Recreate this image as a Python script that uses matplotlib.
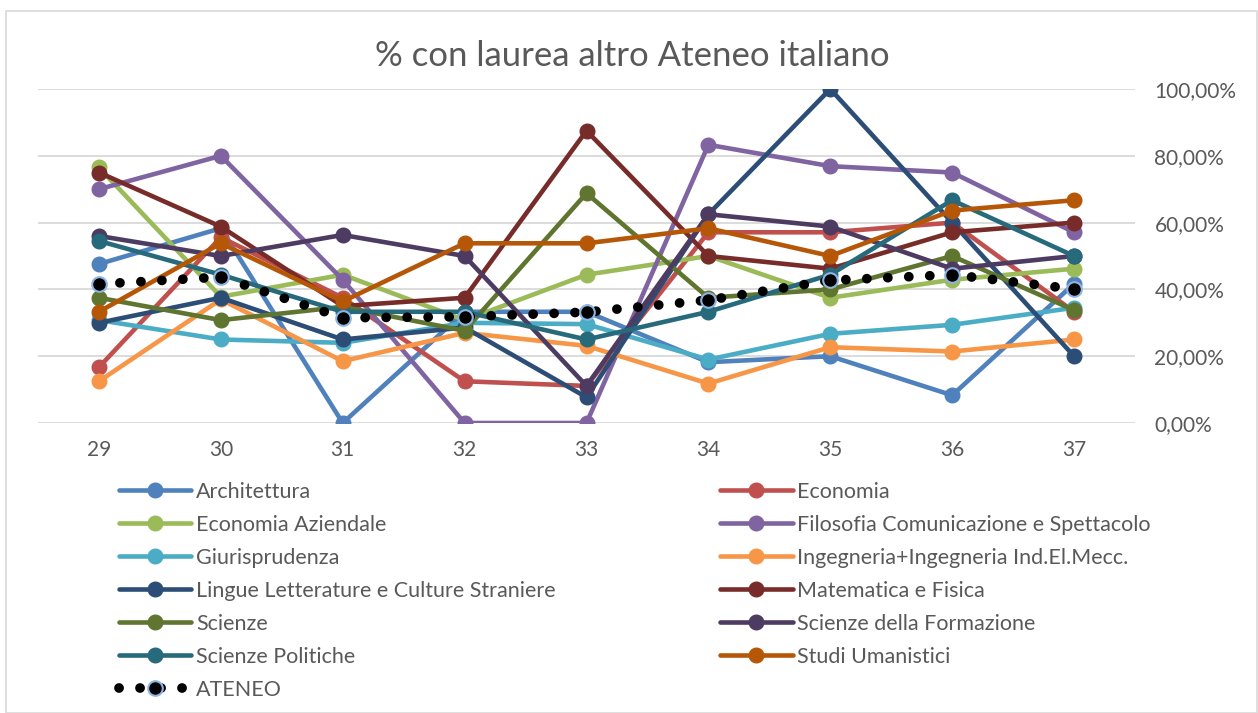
import matplotlib
matplotlib.use("Agg")
import matplotlib.pyplot as plt
from matplotlib.patches import Rectangle
from matplotlib.ticker import FuncFormatter

plt.rcParams['font.family'] = ['Lato', 'DejaVu Sans']

anni = [29, 30, 31, 32, 33, 34, 35, 36, 37]

nomi = ["Architettura", "Economia", "Economia Aziendale",
        "Filosofia Comunicazione e Spettacolo", "Giurisprudenza",
        "Ingegneria+Ingegneria Ind.El.Mecc.",
        "Lingue Letterature e Culture Straniere", "Matematica e Fisica",
        "Scienze", "Scienze della Formazione", "Scienze Politiche",
        "Studi Umanistici"]

architettura = [47.6, 58.3, 0.0, 33.3, 33.3, 18.2, 20.0, 8.3, 41.7]
economia = [16.7, 55.6, 37.5, 12.5, 11.1, 57.1, 57.1, 60.0, 33.3]
economia_az = [76.5, 37.8, 44.4, 30.8, 44.4, 50.0, 37.5, 42.9, 46.2]
filosofia = [70.0, 80.0, 42.9, 0.0, 0.0, 83.3, 76.9, 75.0, 57.1]
giurisprudenza = [30.8, 25.0, 24.0, 30.0, 29.6, 19.0, 26.7, 29.4, 34.5]
ingegneria = [12.5, 37.0, 18.5, 27.0, 23.1, 11.8, 22.7, 21.4, 25.0]
lingue = [30.0, 37.5, 25.0, 28.6, 7.7, 62.5, 100.0, 60.0, 20.0]
matematica = [75.0, 58.8, 35.0, 37.5, 87.5, 50.0, 46.2, 57.1, 60.0]
scienze = [37.5, 30.8, 34.8, 27.6, 68.8, 37.5, 40.0, 50.0, 33.8]
formazione = [56.0, 50.0, 56.3, 50.0, 11.1, 62.5, 58.8, 46.2, 50.0]
politiche = [54.5, 44.4, 33.3, 33.3, 25.0, 33.3, 44.4, 66.7, 50.0]
umanistici = [33.3, 53.8, 36.4, 53.8, 53.8, 58.3, 50.0, 63.6, 66.7]
ateneo = [41.6, 43.7, 31.5, 31.8, 33.2, 36.8, 42.7, 44.4, 40.1]

serie = [architettura, economia, economia_az, filosofia, giurisprudenza,
         ingegneria, lingue, matematica, scienze, formazione, politiche,
         umanistici]
colori = ['#4F81BD', '#C0504D', '#9BBB59', '#8064A2', '#4BACC6', '#F79646',
          '#2C4D75', '#772C2A', '#5F7530', '#4D3B62', '#276A7C', '#B65708']

fig = plt.figure(figsize=(12.58, 7.13), dpi=100)
W, H = 1258, 713
ax = fig.add_axes([38 / W, 1 - 423 / H, (1135 - 38) / W, (423 - 89) / H])

handles = []
for vals, nome, col in zip(serie, nomi, colori):
    h, = ax.plot(anni, vals, color=col, lw=3.3, marker='o', ms=10.5,
                 solid_capstyle='round', label=nome, zorder=3)
    handles.append(h)

h_at, = ax.plot(anni, ateneo, color='black', lw=7,
                linestyle=(0, (0.01, 2.15)), dash_capstyle='round',
                marker='o', ms=10.5, mfc='black', mec='#8DB4E2', mew=1.5,
                label='ATENEO', zorder=4)
handles.append(h_at)

ax.set_xlim(28.5, 37.5)
ax.set_ylim(0, 100)
ax.set_xticks(anni)
ax.set_yticks([0, 20, 40, 60, 80, 100])
ax.yaxis.tick_right()
ax.yaxis.set_major_formatter(FuncFormatter(lambda v, p: f"{v:.2f}".replace('.', ',') + "%"))
ax.tick_params(axis='both', length=0, labelsize=15, labelcolor='#595959')
ax.tick_params(axis='y', pad=14)
ax.tick_params(axis='x', pad=12)
ax.grid(axis='y', color='#D9D9D9', lw=1.3)
ax.set_axisbelow(True)
for s in ax.spines.values():
    s.set_visible(False)

fig.text(632 / W, 1 - 56 / H, "% con laurea altro Ateneo italiano",
         ha='center', va='center', fontsize=25, color='#595959')

ordine = [0, 2, 4, 6, 8, 10, 12, 1, 3, 5, 7, 9, 11]
leg = fig.legend([handles[i] for i in ordine],
                 [handles[i].get_label() for i in ordine],
                 ncol=2, loc='upper left', bbox_to_anchor=(119 / W, 1 - 482 / H),
                 frameon=False, fontsize=15.5, handlelength=3.35,
                 handletextpad=0.23, columnspacing=7.65, labelspacing=0.6,
                 borderaxespad=0, borderpad=0)
for t in leg.get_texts():
    t.set_color('#595959')

fig.patches.append(Rectangle((6 / W, 0), (1257 - 6) / W, 1 - 11 / H,
                             transform=fig.transFigure, fill=False,
                             edgecolor='#D9D9D9', lw=1.2))

fig.savefig("out.png", dpi=100)
